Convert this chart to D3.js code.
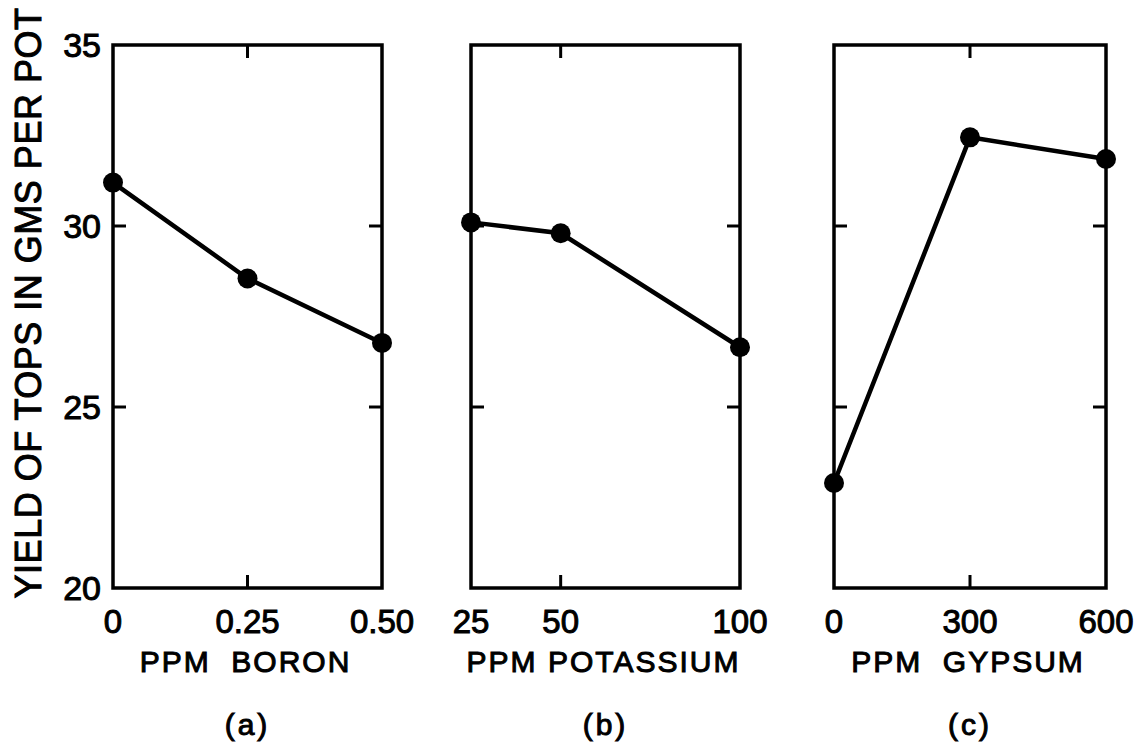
<!DOCTYPE html>
<html>
<head>
<meta charset="utf-8">
<script src="https://cdn.jsdelivr.net/npm/d3@7"></script>
<style>
  body { margin: 0; background: #fff; }
  svg text { font-family: 'Liberation Sans', Arial, sans-serif; fill: #000; }
</style>
</head>
<body>
<div class="svgcontainer"></div>
<script>
// values
const boron = [0, 0.25, 0.5];
const boronYield = [31.2, 28.55, 26.77];
const boronTicks = ['0', '0.25', '0.50'];

const potassium = [25, 50, 100];
const potassiumYield = [30.1, 29.8, 26.65];
const potassiumTicks = ['25', '50', '100'];

const gypsum = [0, 300, 600];
const gypsumYield = [22.9, 32.45, 31.85];
const gypsumTicks = ['0', '300', '600'];

const yTicks = [20, 25, 30, 35];

const panels = [
  {x: boron, y: boronYield, labels: boronTicks, title: 'PPM  BORON', tag: '(a)', left: 113, right: 382},
  {x: potassium, y: potassiumYield, labels: potassiumTicks, title: 'PPM POTASSIUM', tag: '(b)', left: 471, right: 740},
  {x: gypsum, y: gypsumYield, labels: gypsumTicks, title: 'PPM  GYPSUM', tag: '(c)', left: 834, right: 1106},
];

const svg = d3
  .select('.svgcontainer')
  .append('svg')
  .attr('width', 1140)
  .attr('height', 746);

const plotTop = 45;
const plotBottom = 588;
const tickLen = 13;

const y = d3.scaleLinear().domain([20, 35]).range([plotBottom, plotTop]);

panels.forEach(function(p) {
  const x = d3
    .scaleLinear()
    .domain([p.x[0], p.x[p.x.length - 1]])
    .range([p.left, p.right]);
  const mid = p.x[1];

  const g = svg.append('g');

  // frame
  g.append('rect')
    .attr('x', p.left)
    .attr('y', plotTop)
    .attr('width', p.right - p.left)
    .attr('height', plotBottom - plotTop)
    .attr('fill', 'none')
    .attr('stroke', '#000')
    .attr('stroke-width', 3.5);

  // inward ticks
  [25, 30].forEach(function(v) {
    g.append('line')
      .attr('x1', p.left).attr('x2', p.left + tickLen)
      .attr('y1', y(v)).attr('y2', y(v))
      .attr('stroke', '#000').attr('stroke-width', 3);
    g.append('line')
      .attr('x1', p.right).attr('x2', p.right - tickLen)
      .attr('y1', y(v)).attr('y2', y(v))
      .attr('stroke', '#000').attr('stroke-width', 3);
  });
  g.append('line')
    .attr('x1', x(mid)).attr('x2', x(mid))
    .attr('y1', plotTop).attr('y2', plotTop + tickLen)
    .attr('stroke', '#000').attr('stroke-width', 3);
  g.append('line')
    .attr('x1', x(mid)).attr('x2', x(mid))
    .attr('y1', plotBottom).attr('y2', plotBottom - tickLen)
    .attr('stroke', '#000').attr('stroke-width', 3);

  // x tick labels
  g.selectAll('.xlab')
    .data(p.x)
    .enter()
    .append('text')
    .attr('class', 'xlab')
    .attr('x', d => x(d))
    .attr('y', 633)
    .attr('text-anchor', 'middle')
    .style('font-size', '33px')
    .style('stroke', '#000')
    .style('stroke-width', 1)
    .text((d, i) => p.labels[i]);

  // x title
  g.append('text')
    .attr('x', (p.left + p.right) / 2 - 2)
    .attr('y', 672)
    .attr('text-anchor', 'middle')
    .style('font-size', '30px')
    .style('letter-spacing', '2px')
    .style('white-space', 'pre')
    .style('stroke', '#000')
    .style('stroke-width', 1)
    .text(p.title);

  g.append('text')
    .attr('x', (p.left + p.right) / 2)
    .attr('y', 735)
    .attr('text-anchor', 'middle')
    .style('font-size', '30px')
    .style('letter-spacing', '3px')
    .style('stroke', '#000')
    .style('stroke-width', 1)
    .text(p.tag);

  const line = d3
    .line()
    .x(d => x(d[0]))
    .y(d => y(d[1]));
  const pts = p.x.map((d, i) => [d, p.y[i]]);

  g.append('path')
    .datum(pts)
    .attr('d', line)
    .attr('fill', 'none')
    .attr('stroke', '#000')
    .attr('stroke-width', 4.5);

  g.selectAll('circle')
    .data(pts)
    .enter()
    .append('circle')
    .attr('cx', d => x(d[0]))
    .attr('cy', d => y(d[1]))
    .attr('r', 10)
    .attr('fill', '#000');
});

// y tick labels
svg.selectAll('.ylab')
  .data(yTicks)
  .enter()
  .append('text')
  .attr('class', 'ylab')
  .attr('x', 101)
  .attr('y', d => y(d))
  .attr('dy', '0.36em')
  .attr('text-anchor', 'end')
  .style('font-size', '34px')
  .style('stroke', '#000')
  .style('stroke-width', 1)
  .text(d => d);

// y title
svg.append('text')
  .attr('transform', 'translate(41,303) rotate(-90)')
  .attr('text-anchor', 'middle')
  .style('font-size', '36px')
  .style('letter-spacing', '0.5px')
  .style('stroke', '#000')
  .style('stroke-width', 1)
  .text('YIELD OF TOPS IN GMS PER POT');
</script>
</body>
</html>
